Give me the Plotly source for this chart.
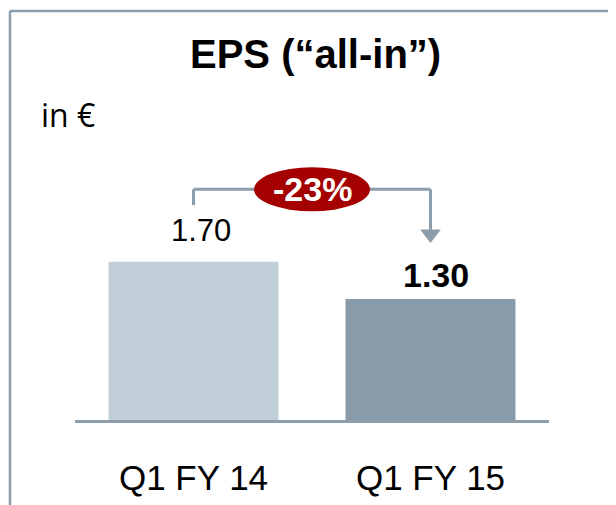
import plotly.graph_objects as go

W, H = 616, 505
OFF = 8  # page body margin in the browser
categories = ['Q1 FY 14', 'Q1 FY 15']
eps_values = [1.70, 1.30]
value_labels = ['1.70', '1.30']
change_label = '-23%'
title_text = 'EPS (\u201call-in\u201d)'
unit_text = 'in \u20ac'

bar_colors = ['#c0ced8', '#899aa9']
line_col = '#8c9dac'
red = '#a50000'


def px_x(p):
    return (p - OFF) / W


def px_y(p):
    return 1 - (p - OFF) / H


ymax = 3.87
bracket_y = eps_values[0] + 0.78
left_drop = eps_values[0] + 0.61
arrow_center = eps_values[1] + 0.70

fig = go.Figure()
fig.add_trace(go.Bar(x=[0, 1], y=eps_values, marker_color=bar_colors,
                     marker_line_width=0, width=0.717, hoverinfo='skip'))

# arrowhead
fig.add_trace(go.Scatter(x=[1], y=[arrow_center], mode='markers',
                         marker=dict(symbol='triangle-down', size=18, color=line_col),
                         hoverinfo='skip'))

# bracket
fig.add_shape(type='line', x0=0, x1=0, y0=left_drop, y1=bracket_y,
              line=dict(color=line_col, width=3))
fig.add_shape(type='line', x0=0, x1=1, y0=bracket_y, y1=bracket_y,
              line=dict(color=line_col, width=3))
fig.add_shape(type='line', x0=1, x1=1, y0=bracket_y, y1=arrow_center,
              line=dict(color=line_col, width=3))
# red ellipse
fig.add_shape(type='circle', xref='x', yref='y', xsizemode='pixel', ysizemode='pixel',
              xanchor=0.5, yanchor=bracket_y, x0=-58, x1=58, y0=-22, y1=22,
              fillcolor=red, line=dict(width=0))
fig.add_annotation(x=0.5, y=bracket_y, text='<b>' + change_label + '</b>', showarrow=False,
                   font=dict(family='Liberation Sans, Arial', size=34, color='white'))

# value labels
fig.add_annotation(x=0, y=eps_values[0], yanchor='middle', yshift=31, xshift=7, text=value_labels[0],
                   showarrow=False, font=dict(family='Liberation Sans, Arial', size=31, color='black'))
fig.add_annotation(x=1, y=eps_values[1], yanchor='middle', yshift=24, xshift=5,
                   text='<b>' + value_labels[1] + '</b>',
                   showarrow=False, font=dict(family='Liberation Sans, Arial', size=34, color='black'))

# title and unit
fig.add_annotation(xref='paper', yref='paper', x=px_x(315), y=px_y(54), text='<b>' + title_text + '</b>',
                   showarrow=False, xanchor='center', yanchor='middle',
                   font=dict(family='Liberation Sans, Arial', size=40, color='black'))
fig.add_annotation(xref='paper', yref='paper', x=px_x(39), y=px_y(115), text=unit_text,
                   showarrow=False, xanchor='left', yanchor='middle',
                   font=dict(family='Open Sans', size=32, color='black'))

# frame
fig.add_shape(type='line', xref='paper', yref='paper', x0=px_x(10), x1=1, y0=px_y(11), y1=px_y(11),
              line=dict(color=line_col, width=2.5))
fig.add_shape(type='line', xref='paper', yref='paper', x0=px_x(10), x1=px_x(10), y0=0, y1=px_y(11),
              line=dict(color=line_col, width=2.5))

fig.update_layout(
    width=W, height=H, margin=dict(l=0, r=0, t=0, b=0),
    plot_bgcolor='white', paper_bgcolor='white', showlegend=False,
    xaxis=dict(domain=[px_x(75), px_x(549)], range=[-0.5, 1.5], tickvals=[0, 1], ticktext=categories,
               showgrid=False, zeroline=False, showline=True, linecolor=line_col, linewidth=2.5,
               ticks='', ticklabelstandoff=25,
               tickfont=dict(family='Liberation Sans, Arial', size=35, color='black')),
    yaxis=dict(domain=[px_y(420), px_y(60)], range=[0, ymax], visible=False),
)

fig.write_html('out.html')
